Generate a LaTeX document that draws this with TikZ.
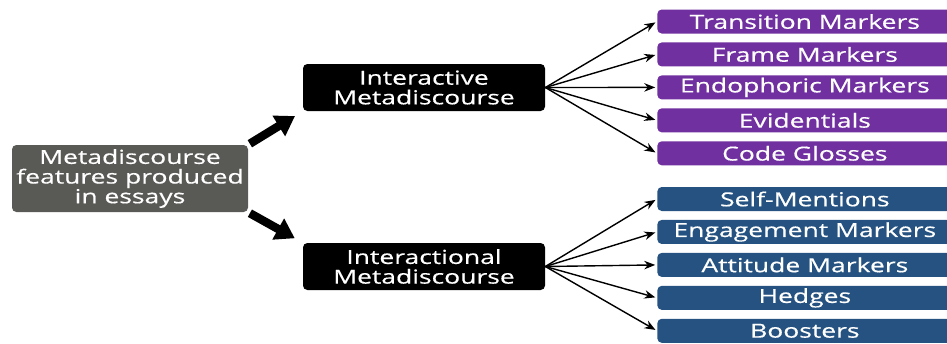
\documentclass[tikz,border=0pt]{standalone}
\usepackage{fontspec}
\setmainfont{Open Sans}[FakeStretch=1.37,FakeBold=0.5]
\usetikzlibrary{arrows.meta,positioning}
\definecolor{rootgray}{RGB}{89,89,86}
\definecolor{listpurple}{RGB}{112,48,160}
\definecolor{listblue}{RGB}{37,82,128}

\begin{document}
\begin{tikzpicture}[
  node distance=0.165cm,
  box/.style={rounded corners=2.5pt,text=white,align=center,inner sep=0pt,font=\fontsize{11}{11.2}\selectfont},
  item/.style={box,minimum width=5.9cm,minimum height=0.48cm,anchor=west},
  fan/.style={thick,shorten >=1pt,-{Stealth[length=2.2mm,width=1.7mm]}},
  fat/.style={line width=4.8pt,shorten <=1pt,shorten >=0.18cm,-{Triangle[length=0.38cm,width=0.46cm]}}
]
  \clip (0,0) rectangle (18.94,-6.86);
  \node[box,fill=rootgray,minimum width=4.72cm,minimum height=1.34cm] (R) at (2.60,-3.57) {Metadiscourse\\features produced\\in essays};
  \node[box,fill=black,minimum width=4.84cm,minimum height=0.94cm] (IA) at (8.48,-1.75) {Interactive\\Metadiscourse};
  \node[box,fill=black,minimum width=4.84cm,minimum height=0.94cm] (IL) at (8.48,-5.33) {Interactional\\Metadiscourse};

  % interactive resources
  \node[item,fill=listpurple] (T) at (13.14,-0.43) {Transition Markers};
  \node[item,fill=listpurple,below=of T] (F) {Frame Markers};
  \node[item,fill=listpurple,below=of F] (E) {Endophoric Markers};
  \node[item,fill=listpurple,below=of E] (V) {Evidentials};
  \node[item,fill=listpurple,below=of V] (C) {Code Glosses};

  % interactional resources
  \node[item,fill=listblue] (S) at (13.14,-3.98) {Self-Mentions};
  \node[item,fill=listblue,below=of S] (G) {Engagement Markers};
  \node[item,fill=listblue,below=of G] (A) {Attitude Markers};
  \node[item,fill=listblue,below=of A] (H) {Hedges};
  \node[item,fill=listblue,below=of H] (B) {Boosters};

  \draw[fat] (R.north east) -- (IA.south west);
  \draw[fat] (R.south east) -- (IL.north west);

  \draw[fan] (IA.east) -- (T.west);
  \draw[fan] (IA.east) -- (F.west);
  \draw[fan] (IA.east) -- (E.west);
  \draw[fan] (IA.east) -- (V.west);
  \draw[fan] (IA.east) -- (C.west);

  \draw[fan] (IL.east) -- (S.west);
  \draw[fan] (IL.east) -- (G.west);
  \draw[fan] (IL.east) -- (A.west);
  \draw[fan] (IL.east) -- (H.west);
  \draw[fan] (IL.east) -- (B.west);
\end{tikzpicture}
\end{document}
